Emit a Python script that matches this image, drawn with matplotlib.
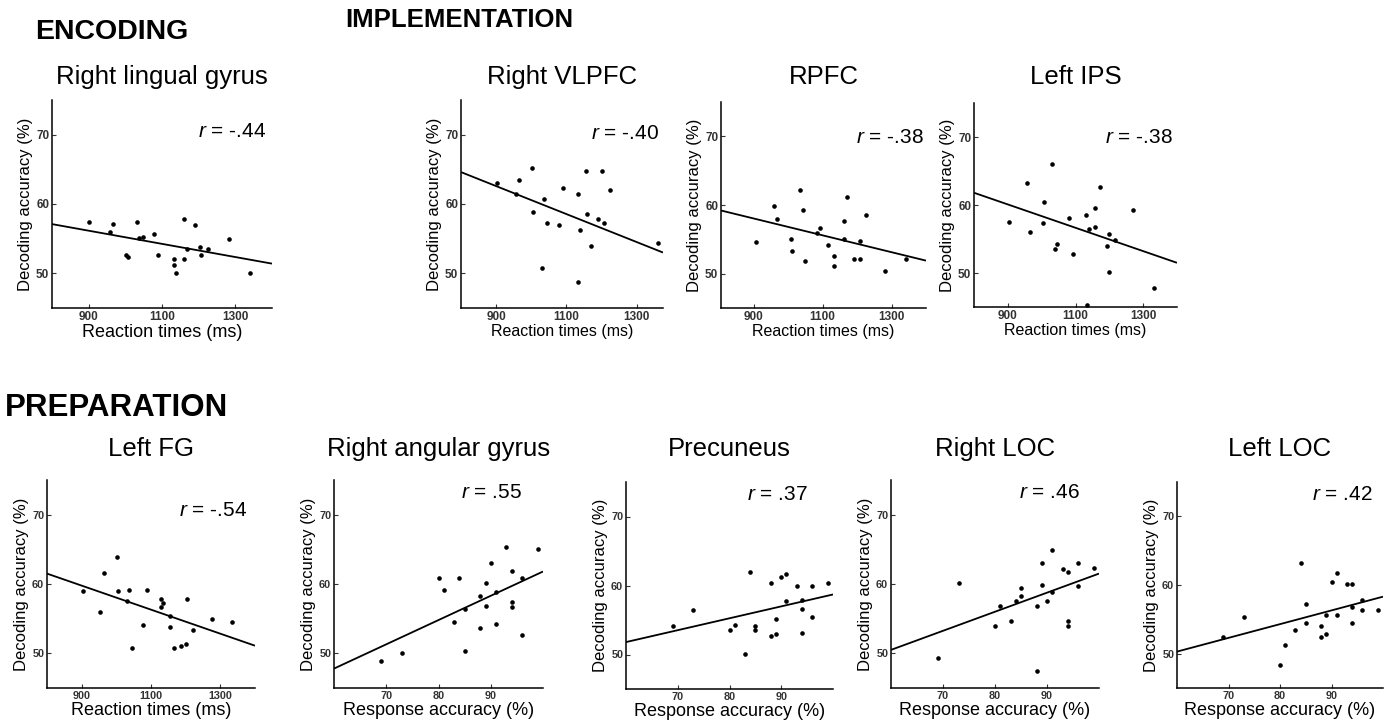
import matplotlib.pyplot as plt
import numpy as np

plt.rcParams['font.family'] = ['Liberation Sans', 'DejaVu Sans']
plt.rcParams['mathtext.fontset'] = 'custom'
plt.rcParams['mathtext.it'] = 'Liberation Sans:italic'
plt.rcParams['mathtext.rm'] = 'Liberation Sans'

# --- data -----------------------------------------------------------------
# reaction time panels: x = reaction time (ms), y = decoding accuracy (%)
lingual_x = [902, 957, 966, 1003, 1007, 1032, 1038, 1047, 1078, 1090, 1133,
             1133, 1139, 1159, 1159, 1169, 1190, 1205, 1206, 1226, 1282, 1339]
lingual_y = [57.4, 55.9, 57.1, 52.7, 52.4, 57.4, 55.1, 55.3, 55.7, 52.7, 52.0,
             51.2, 50.0, 57.8, 52.0, 53.5, 57.0, 53.8, 52.7, 53.5, 55.0, 50.0]

vlpfc_x = [902, 956, 964, 1002, 1006, 1030, 1037, 1044, 1078, 1090, 1132,
           1132, 1139, 1156, 1158, 1169, 1190, 1202, 1207, 1223, 1360]
vlpfc_y = [63.1, 61.4, 63.5, 65.2, 58.8, 50.8, 60.7, 57.3, 56.9, 62.3, 61.5,
           48.7, 56.2, 64.7, 58.5, 54.0, 57.9, 64.7, 57.3, 62.0, 54.4]

rpfc_x = [908, 960, 968, 1007, 1010, 1034, 1042, 1048, 1083, 1093, 1115,
          1134, 1134, 1161, 1161, 1172, 1192, 1207, 1209, 1227, 1282, 1342]
rpfc_y = [54.6, 59.8, 57.9, 55.0, 53.3, 62.2, 59.3, 51.9, 55.9, 56.6, 54.2,
          52.6, 51.1, 57.6, 55.0, 61.1, 52.2, 54.7, 52.2, 58.5, 50.4, 52.2]

ips_x = [903, 957, 965, 1003, 1008, 1031, 1040, 1045, 1080, 1092, 1132,
         1133, 1141, 1157, 1157, 1172, 1194, 1200, 1200, 1217, 1271, 1333]
ips_y = [57.5, 63.2, 56.1, 57.4, 60.4, 66.0, 53.5, 54.3, 58.1, 52.8, 58.6,
         45.3, 56.5, 59.6, 56.8, 62.6, 53.9, 50.1, 55.8, 54.8, 59.2, 47.8]

fg_x = [903, 954, 965, 1003, 1005, 1030, 1036, 1045, 1076, 1088, 1128,
        1129, 1135, 1154, 1156, 1167, 1186, 1200, 1203, 1221, 1276, 1333]
fg_y = [59.0, 56.0, 61.6, 63.9, 59.0, 57.6, 59.1, 50.7, 54.1, 59.1, 57.8,
        56.7, 57.3, 53.8, 55.4, 50.8, 51.0, 51.4, 57.8, 53.4, 55.0, 54.5]

# response accuracy panels: x = response accuracy (%), y = decoding accuracy (%)
resp_acc = [69, 73, 80, 81, 83, 84, 85, 85, 88, 88, 89,
            89, 90, 91, 91, 93, 94, 94, 94, 96, 96, 99]
angular_y = [48.9, 50.0, 60.9, 59.1, 54.5, 60.8, 56.4, 50.3, 58.3, 53.6, 60.2,
             56.8, 63.0, 58.9, 54.2, 65.4, 61.9, 57.4, 56.7, 60.9, 52.6, 65.0]
precuneus_y = [54.2, 56.5, 53.5, 54.3, 50.1, 62.0, 54.1, 53.5, 60.3, 52.7, 55.2,
               53.0, 61.3, 61.6, 57.8, 60.0, 57.9, 56.6, 53.1, 60.0, 55.5, 60.4]
rloc_y = [49.3, 60.1, 53.9, 56.8, 54.7, 57.6, 59.4, 58.3, 56.8, 47.4, 63.0,
          59.8, 57.6, 64.9, 58.9, 62.2, 61.7, 54.7, 54.0, 63.1, 59.7, 62.3]
lloc_y = [52.4, 55.4, 48.3, 51.3, 53.5, 63.2, 57.2, 54.5, 54.1, 52.5, 55.6,
          52.9, 60.4, 61.8, 55.6, 60.1, 60.2, 56.8, 54.4, 57.8, 56.3, 56.4]

# regression lines: decoding accuracy at the left / right end of the x range
lingual_fit = [57.1, 51.4]
vlpfc_fit = [64.6, 53.0]
rpfc_fit = [59.2, 51.9]
ips_fit = [61.8, 51.5]
fg_fit = [61.5, 51.1]
angular_fit = [47.8, 61.8]
precuneus_fit = [51.8, 58.7]
rloc_fit = [50.5, 61.5]
lloc_fit = [50.3, 58.3]

names = ['Right lingual gyrus', 'Right VLPFC', 'RPFC', 'Left IPS',
         'Left FG', 'Right angular gyrus', 'Precuneus', 'Right LOC', 'Left LOC']
r_labels = ['-.44', '-.40', '-.38', '-.38', '-.54', '.55', '.37', '.46', '.42']

# --- layout (pixels in a 1390x725 canvas) ---------------------------------
W, H = 1390., 725.
fig = plt.figure(figsize=(W / 100, H / 100), dpi=100)

panels = [
    # x, y, fit, box(l, r, t, b), xlim, r-text pos, xlabel size, tick size
    (lingual_x, lingual_y, lingual_fit, (52, 272, 100, 308), (800, 1400), (0.975, 0.85), 13, 8.5),
    (vlpfc_x, vlpfc_y, vlpfc_fit, (461, 663, 100, 308), (800, 1375), (0.98, 0.84), 11.5, 8.5),
    (rpfc_x, rpfc_y, rpfc_fit, (721, 926, 102, 308), (805, 1400), (0.99, 0.83), 11.5, 8.5),
    (ips_x, ips_y, ips_fit, (974, 1177, 103, 307), (800, 1400), (0.98, 0.83), 11.5, 8.5),
    (fg_x, fg_y, fg_fit, (47, 255, 480, 688), (800, 1400), (0.96, 0.855), 13, 7.8),
    (resp_acc, angular_y, angular_fit, (334, 543, 480, 688), (60, 100), (0.90, 0.94), 13, 7.8),
    (resp_acc, precuneus_y, precuneus_fit, (626, 833, 482, 689), (60, 100), (0.88, 0.94), 13, 7.8),
    (resp_acc, rloc_y, rloc_fit, (891, 1099, 480, 688), (60, 100), (0.91, 0.94), 13, 7.8),
    (resp_acc, lloc_y, lloc_fit, (1177, 1383, 482, 688), (60, 100), (0.95, 0.94), 13, 7.8),
]

for i, (x, y, fit, box, xlim, rpos, xls, tls) in enumerate(panels):
    l, r, t, b = box
    ax = fig.add_axes([l / W, 1 - b / H, (r - l) / W, (b - t) / H])
    ax.plot(x, y, 'o', ms=3.3, color='black', mec='none', clip_on=False)
    ax.plot(xlim, fit, color='black', lw=1.3, solid_capstyle='butt')
    ax.set_xlim(xlim)
    ax.set_ylim(45, 75)
    ax.set_yticks([50, 60, 70])
    if xlim[1] > 200:
        ax.set_xticks([900, 1100, 1300])
        ax.set_xlabel('Reaction times (ms)', fontsize=xls, labelpad=1)
    else:
        ax.set_xticks([70, 80, 90])
        ax.set_xlabel('Response accuracy (%)', fontsize=xls, labelpad=1)
    ax.set_ylabel('Decoding accuracy (%)', fontsize=12, labelpad=2)
    for s in ['top', 'right']:
        ax.spines[s].set_visible(False)
    for s in ['left', 'bottom']:
        ax.spines[s].set_linewidth(1.1)
    ax.tick_params(direction='in', length=3, width=0.8, labelsize=tls,
                   pad=2, colors='#333333')
    plt.setp(ax.get_xticklabels() + ax.get_yticklabels(), fontweight='bold')
    ax.text(rpos[0], rpos[1], '$r$ = ' + r_labels[i],
            transform=ax.transAxes, ha='right', va='center', fontsize=15)

    tb = 84 if i < 4 else 456
    fig.text((l + r) / 2 / W, 1 - tb / H, names[i], ha='center',
             va='baseline', fontsize=18.5)

fig.text(35 / W, 1 - 32 / H, 'ENCODING', fontsize=20.5, fontweight='bold', va='center')
fig.text(345 / W, 1 - 20 / H, 'IMPLEMENTATION', fontsize=18.5, fontweight='bold', va='center')
fig.text(5 / W, 1 - 408 / H, 'PREPARATION', fontsize=22.5, fontweight='bold', va='center')

fig.savefig('out.png', dpi=100)
